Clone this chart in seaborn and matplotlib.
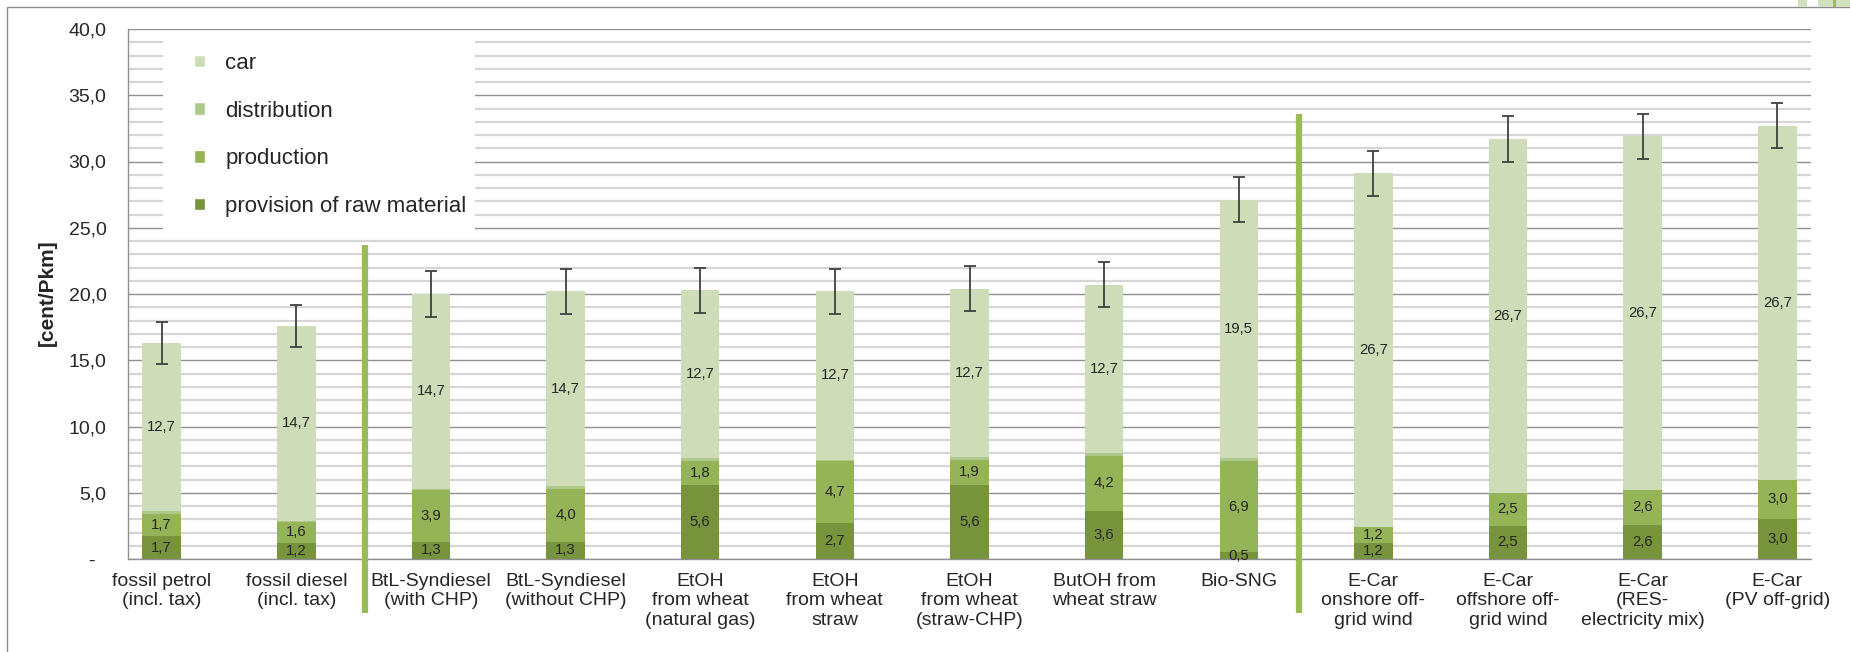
import matplotlib
matplotlib.use("Agg")
import pandas as pd
import seaborn as sns
import matplotlib.pyplot as plt
from matplotlib.patches import Rectangle, Patch
from matplotlib.ticker import MultipleLocator, FixedLocator

# chart data (cent/Pkm)
categories = ["fossil petrol\n(incl. tax)", "fossil diesel\n(incl. tax)",
              "BtL-Syndiesel\n(with CHP)", "BtL-Syndiesel\n(without CHP)",
              "EtOH\nfrom wheat\n(natural gas)", "EtOH\nfrom wheat\nstraw",
              "EtOH\nfrom wheat\n(straw-CHP)", "ButOH from\nwheat straw", "Bio-SNG",
              "E-Car\nonshore off-\ngrid wind", "E-Car\noffshore off-\ngrid wind",
              "E-Car\n(RES-\nelectricity mix)", "E-Car\n(PV off-grid)"]
raw_material = [1.7, 1.2, 1.3, 1.3, 5.6, 2.7, 5.6, 3.6, 0.5, 1.2, 2.5, 2.6, 3.0]
production = [1.7, 1.6, 3.9, 4.0, 1.8, 4.7, 1.9, 4.2, 6.9, 1.2, 2.5, 2.6, 3.0]
distribution = [0.2, 0.1, 0.1, 0.2, 0.2, 0.1, 0.2, 0.2, 0.2, 0.0, 0.0, 0.0, 0.0]
car = [12.7, 14.7, 14.7, 14.7, 12.7, 12.7, 12.7, 12.7, 19.5, 26.7, 26.7, 26.7, 26.7]
error = [1.6, 1.6, 1.7, 1.7, 1.7, 1.7, 1.7, 1.7, 1.7, 1.7, 1.7, 1.7, 1.7]

y_ticks = [0, 5, 10, 15, 20, 25, 30, 35, 40]
y_tick_labels = ["-  ", "5,0", "10,0", "15,0", "20,0", "25,0", "30,0", "35,0", "40,0"]

# separator lines: x position (category units), top value
separators = [(1.51, 23.7), (8.45, 33.6)]

COL_CAR = "#CEDDB8"
COL_DIST = "#AFC88B"
COL_PROD = "#95B457"
COL_RAW = "#77933C"
COL_SEP = "#9BBB59"
TXT = "#262626"
GRID_MAJ = "#8F8F8F"
GRID_MIN = "#D6D6D6"


def fmt(v):
    return "{:.1f}".format(v).replace(".", ",")


def main():
    sns.set_style("white")
    plt.rcParams["font.family"] = ["Liberation Sans", "DejaVu Sans"]
    plt.rcParams["text.color"] = TXT

    df = pd.DataFrame({"cat": categories, "raw": raw_material, "prod": production,
                       "dist": distribution, "car": car, "err": error})
    df["lvl_prod"] = df["raw"] + df["prod"]
    df["lvl_dist"] = df["lvl_prod"] + df["dist"]
    df["total"] = df["lvl_dist"] + df["car"]

    W, H = 1850, 652
    fig = plt.figure(figsize=(W / 100, H / 100), dpi=100)
    ax = fig.add_axes([128 / W, 1 - 559 / H, (1811 - 128) / W, (559 - 29) / H])

    bw = 0.286
    for col, c in [("total", COL_CAR), ("lvl_dist", COL_DIST),
                   ("lvl_prod", COL_PROD), ("raw", COL_RAW)]:
        sns.barplot(data=df, x="cat", y=col, color=c, saturation=1, width=bw,
                    linewidth=0, errorbar=None, ax=ax)

    ax.errorbar(range(len(df)), df["total"], yerr=df["err"], fmt="none",
                ecolor="#404040", elinewidth=1.3, capsize=4, capthick=1.3, zorder=4)

    # segment labels
    for i, r in df.iterrows():
        ax.text(i, r["raw"] / 2, fmt(r["raw"]), ha="center", va="center", fontsize=10.7, zorder=5)
        ax.text(i, r["raw"] + r["prod"] / 2, fmt(r["prod"]), ha="center", va="center", fontsize=10.7, zorder=5)
        ax.text(i, r["lvl_dist"] + r["car"] / 2, fmt(r["car"]), ha="center", va="center", fontsize=10.7, zorder=5)

    ax.set_xlim(-0.25, 12.25)
    ax.set_ylim(0, 40)
    ax.yaxis.set_major_locator(FixedLocator(y_ticks))
    ax.set_yticklabels(y_tick_labels)
    ax.yaxis.set_minor_locator(MultipleLocator(1))
    ax.set_axisbelow(True)
    ax.grid(which="major", axis="y", color=GRID_MAJ, lw=1.0)
    ax.grid(which="minor", axis="y", color=GRID_MIN, lw=1.6)
    ax.grid(which="major", axis="x", visible=False)
    ax.tick_params(axis="y", which="major", length=4.5, width=1, color=GRID_MAJ,
                   pad=11, labelsize=14, labelcolor=TXT)
    ax.tick_params(axis="y", which="minor", length=0)
    ax.tick_params(axis="x", length=0, pad=10, labelsize=14, labelcolor=TXT)
    ax.set_xlabel("")
    ax.set_ylabel("")
    for s in ["top", "right"]:
        ax.spines[s].set_visible(False)
    for s in ["left", "bottom"]:
        ax.spines[s].set_color(GRID_MAJ)
        ax.spines[s].set_linewidth(1.0)

    for x, top in separators:
        ax.plot([x, x], [-4.1, top], color=COL_SEP, lw=4.5, clip_on=False,
                solid_capstyle="butt", zorder=3)

    # legend on a white box
    ax.add_patch(Rectangle((0.0208, 0.6094), 0.1854, 0.3868, transform=ax.transAxes,
                           fc="white", ec="none", zorder=1.5))
    handles = [Patch(fc=COL_CAR), Patch(fc=COL_DIST), Patch(fc=COL_PROD), Patch(fc=COL_RAW)]
    labels = ["car", "distribution", "production", "provision of raw material"]
    ax.legend(handles, labels, loc="upper left", bbox_to_anchor=(0.0392, 0.955),
              frameon=False, fontsize=16, handlelength=0.5, handleheight=0.5,
              handletextpad=0.9, labelspacing=1.2, borderpad=0, borderaxespad=0)

    fig.text(47 / W, 1 - 293 / H, "[cent/Pkm]", rotation=90, ha="center", va="center",
             fontsize=15, fontweight="bold")

    # outer frame of the chart area
    fig.add_artist(Rectangle((7 / W, -0.1), 2, 1.1 - 7 / H, transform=fig.transFigure,
                             fill=False, ec="#8C8C8C", lw=1.0))
    # bits of a neighbouring object at the top right
    fig.add_artist(Rectangle((1798 / W, 1 - 7 / H), 9 / W, 7 / H, transform=fig.transFigure,
                             fc="#D3E2BE", ec="none"))
    fig.add_artist(Rectangle((1818 / W, 1 - 7 / H), 32 / W, 7 / H, transform=fig.transFigure,
                             fc="#D3E2BE", ec="none"))
    fig.add_artist(Rectangle((1833 / W, 1 - 7 / H), 3 / W, 7 / H, transform=fig.transFigure,
                             fc=COL_SEP, ec="none"))

    fig.savefig("out.png", dpi=100)
    plt.close(fig)


if __name__ == "__main__":
    main()
